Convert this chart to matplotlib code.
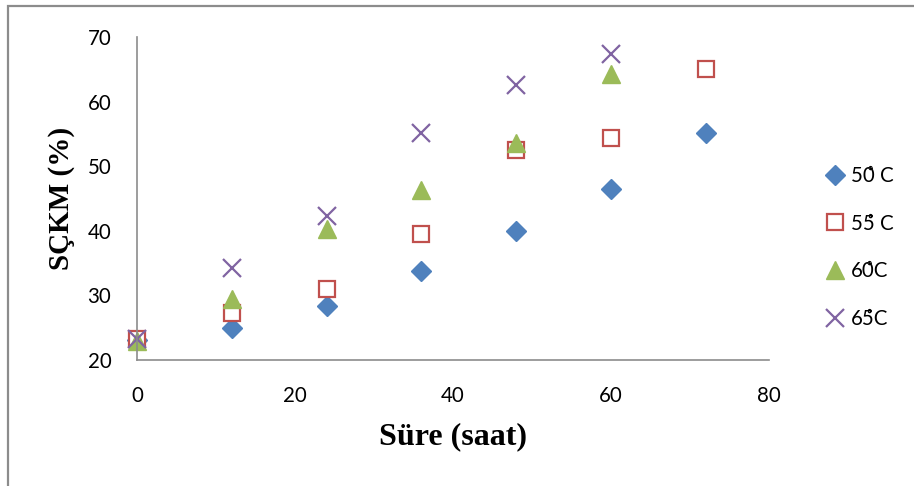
import matplotlib
matplotlib.use("Agg")
import matplotlib.pyplot as plt
from matplotlib.patches import Rectangle

# time (hours) and SÇKM (%) at each drying temperature
hours = [0, 12, 24, 36, 48, 60, 72]
skm_50 = [23.1, 25.0, 28.4, 33.8, 40.0, 46.5, 55.1]
skm_55 = [23.3, 27.3, 31.0, 39.5, 52.5, 54.4, 65.0]
skm_60 = [22.9, 29.4, 40.3, 46.3, 53.6, 64.2]
skm_65 = [23.3, 34.2, 42.3, 55.1, 62.6, 67.4]

labels = ["50\u030a C", "55\u030a C", "60\u030aC", "65\u030aC"]

plt.rcParams["font.family"] = ["Lato", "DejaVu Sans"]

fig = plt.figure(figsize=(9.14, 4.86), dpi=100)
ax = fig.add_axes([0.1499, 0.2593, 0.6914, 0.6646])

ax.plot(hours, skm_50, linestyle="none", marker="D", ms=10.5,
        color="#4F81BD", label=labels[0], clip_on=False)
ax.plot(hours, skm_55, linestyle="none", marker="s", ms=12,
        markerfacecolor="white", markeredgecolor="#C0504D", mew=1.6,
        label=labels[1], clip_on=False)
ax.plot(hours[:6], skm_60, linestyle="none", marker="^", ms=13,
        color="#9BBB59", label=labels[2], clip_on=False)
ax.plot(hours[:6], skm_65, linestyle="none", marker="x", ms=13,
        mew=1.6, color="#8064A2", label=labels[3], clip_on=False)

ax.set_xlim(0, 80)
ax.set_ylim(20, 70)
ax.set_xticks(range(0, 81, 20))
ax.set_yticks(range(20, 71, 10))
ax.tick_params(length=0, labelsize=14.8)
ax.tick_params(axis="x", pad=19)
ax.tick_params(axis="y", pad=18.5)
for side in ("top", "right"):
    ax.spines[side].set_visible(False)
for side in ("left", "bottom"):
    ax.spines[side].set_color("#8C8C8C")
    ax.spines[side].set_linewidth(1.2)

ax.set_xlabel("Süre (saat)", family="Liberation Serif", fontweight="bold",
              fontsize=23, va="center")
ax.set_ylabel("SÇKM (%)", family="Liberation Serif", fontweight="bold",
              fontsize=21, va="center")
ax.xaxis.set_label_coords(0.5, -0.238)
ax.yaxis.set_label_coords(-0.1187, 0.5)

ax.legend(loc="center left", bbox_to_anchor=(0.8906, 0.4907),
          bbox_transform=fig.transFigure, frameon=False,
          fontsize=14.8, labelspacing=1.35, handletextpad=0.2,
          handlelength=1.2, borderaxespad=0)

# outer chart frame
fig.patches.append(Rectangle((8 / 914, -0.1), 1.2, 1 - 6 / 486 + 0.1,
                             transform=fig.transFigure, fill=False,
                             edgecolor="#8C8C8C", linewidth=1.6))

fig.savefig("out.png", dpi=100)
